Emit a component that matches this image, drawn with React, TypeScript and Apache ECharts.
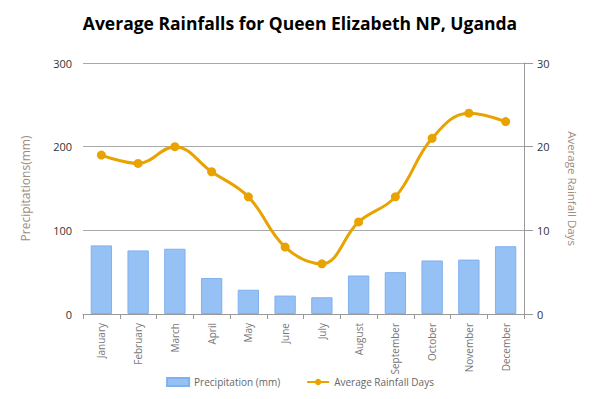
import React, { useEffect, useRef } from "react";
import * as echarts from "echarts";

const months = ["January","February","March","April","May","June","July","August","September","October","November","December"];
const precipitation = [82, 76, 78, 43, 29, 22, 20, 46, 50, 64, 65, 81];
const rainDays = [19, 18, 20, 17, 14, 8, 6, 11, 14, 21, 24, 23];

const FONT = "'Open Sans', sans-serif";

export default function App() {
  const ref = useRef<HTMLDivElement>(null);
  useEffect(() => {
    const chart = echarts.init(ref.current!, undefined, { renderer: "svg" });
    chart.setOption({
      animation: false,
      backgroundColor: "#ffffff",
      title: {
        text: "Average Rainfalls for Queen Elizabeth NP, Uganda",
        left: "center",
        top: 9,
        textStyle: { fontFamily: FONT, fontWeight: "bold", fontSize: 17.5, color: "#000" },
      },
      grid: { left: 83, right: 76, top: 63, bottom: 85 },
      legend: {
        bottom: 7,
        left: "center",
        itemWidth: 22,
        itemHeight: 8,
        itemGap: 26,
        textStyle: { fontFamily: FONT, fontSize: 10, color: "#666" },
        data: [
          { name: "Precipitation (mm)", icon: "rect" },
          { name: "Average Rainfall Days" },
        ],
      },
      xAxis: {
        type: "category",
        data: months,
        boundaryGap: true,
        axisLine: { lineStyle: { color: "#999" } },
        axisTick: { show: true, length: 5, alignWithLabel: false, lineStyle: { color: "#999" } },
        axisLabel: { rotate: 90, fontFamily: FONT, fontSize: 10, color: "#777", margin: 9 },
      },
      yAxis: [
        {
          type: "value",
          min: 0, max: 300, interval: 100,
          name: "Precipitations(mm)",
          nameLocation: "middle",
          nameGap: 52,
          nameTextStyle: { fontFamily: FONT, fontSize: 12, color: "#a08c80" },
          axisLine: { show: false },
          axisTick: { show: false },
          axisLabel: { fontFamily: FONT, fontSize: 11, color: "#333", margin: 11 },
          splitLine: { lineStyle: { color: "#aaa" } },
        },
        {
          type: "value",
          min: 0, max: 30, interval: 10,
          name: "Average Rainfall Days",
          nameLocation: "middle",
          nameRotate: -90,
          nameGap: 42,
          nameTextStyle: { fontFamily: FONT, fontSize: 11.5, color: "#a08c80" },
          axisLine: { show: true, lineStyle: { color: "#999" } },
          axisTick: { show: true, length: 9, lineStyle: { color: "#999" } },
          axisLabel: { fontFamily: FONT, fontSize: 11, color: "#333", margin: 13 },
          splitLine: { show: false },
        },
      ],
      series: [
        {
          name: "Precipitation (mm)",
          type: "bar",
          data: precipitation,
          barWidth: "58%",
          itemStyle: { color: "#96c1f5", borderColor: "#7fb0ef", borderWidth: 1 },
        },
        {
          name: "Average Rainfall Days",
          type: "line",
          yAxisIndex: 1,
          data: rainDays,
          smooth: 0.4,
          symbol: "circle",
          symbolSize: 9,
          lineStyle: { color: "#e8a300", width: 3 },
          itemStyle: { color: "#e8a300" },
        },
      ],
    });
    return () => chart.dispose();
  }, []);
  return <div ref={ref} style={{ width: 600, height: 399, position: "absolute", left: 0, top: 0 }} />;
}
